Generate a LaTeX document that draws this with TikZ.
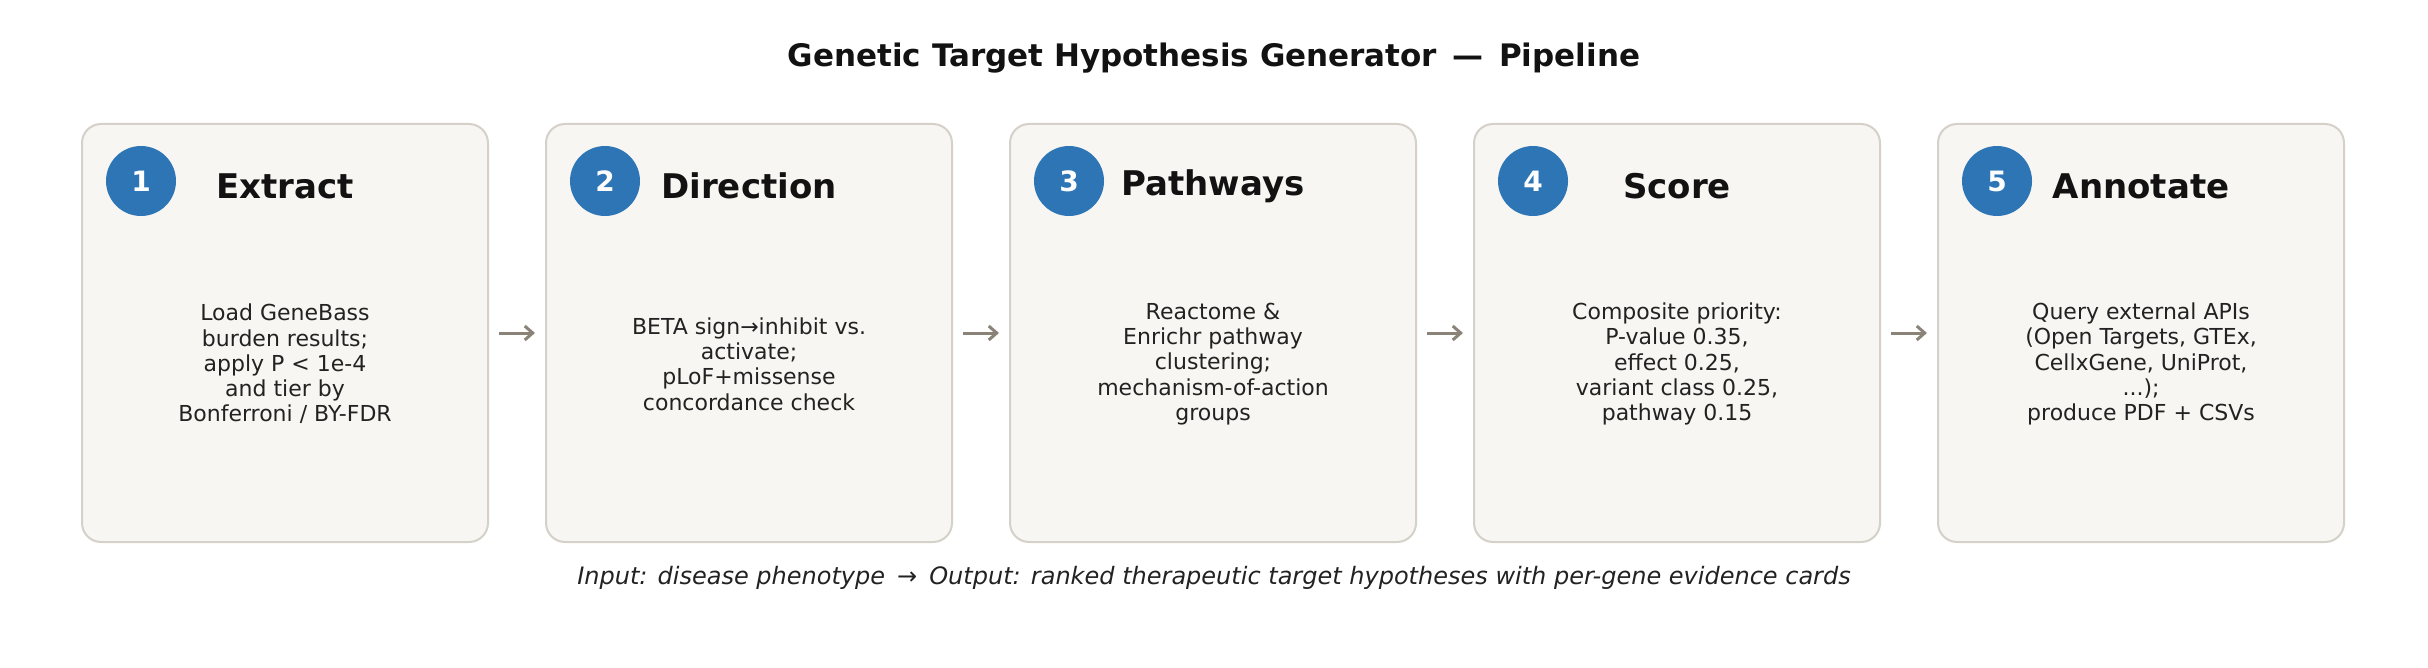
\documentclass[tikz,border=0pt]{standalone}
\usepackage{fontspec}
\setmainfont{DejaVu Sans}
\usetikzlibrary{arrows.meta}
\definecolor{boxfill}{HTML}{F7F6F3}
\definecolor{boxline}{HTML}{D5D0C8}
\definecolor{circ}{HTML}{2E75B6}
\definecolor{arr}{HTML}{8A8378}
\definecolor{txt}{HTML}{222222}
\begin{document}
\begin{tikzpicture}[x=0.5pt,y=-0.5pt,
  box/.style={draw=boxline,fill=boxfill,line width=1pt,rounded corners=9.5pt,minimum width=203pt,minimum height=209pt,inner sep=0pt},
  num/.style={circle,fill=circ,minimum size=35pt,inner sep=0pt,text=white,font=\bfseries\fontsize{14}{14}\selectfont},
  ttl/.style={font=\bfseries\fontsize{17}{17}\selectfont,text=black!93},
  body/.style={align=center,text=txt,font=\fontsize{11}{12.6}\selectfont},
  con/.style={draw=arr,line width=1.5pt,-{Straight Barb[length=4pt,width=7pt]}}]
\useasboundingbox (0,0) rectangle (2428,668);
\node[font=\bfseries\fontsize{15.5}{16}\selectfont,text=black!93] (title) at (1214,58) {Genetic Target Hypothesis Generator\enspace —\enspace Pipeline};
\foreach \i/\t/\b in {1/Extract/{Load GeneBass\\burden results;\\apply P < 1e-4\\and tier by\\Bonferroni / BY-FDR},
  2/Direction/{BETA sign→inhibit vs.\\activate;\\pLoF+missense\\concordance check},
  3/Pathways/{Reactome \&\\Enrichr pathway\\clustering;\\mechanism-of-action\\groups},
  4/Score/{Composite priority:\\P-value 0.35,\\effect 0.25,\\variant class 0.25,\\pathway 0.15},
  5/Annotate/{Query external APIs\\(Open Targets, GTEx,\\CellxGene, UniProt,\\...);\\produce PDF + CSVs}}{
  \pgfmathsetmacro{\cx}{285+464*(\i-1)}
  \node[box] (b\i) at (\cx,333) {};
  \node[num] (n\i) at (\cx-144,181) {\i};
  \node[ttl] (t\i) at (\cx,186) {\t};
  \node[body] (d\i) at (\cx,364) {\b};
}
\foreach \i/\j in {1/2,2/3,3/4,4/5}{
  \draw[con] ([xshift=5pt]b\i.east) -- ([xshift=-5pt]b\j.west);
}
\node[font=\itshape\fontsize{12}{12}\selectfont,text=txt] (foot) at (1214,578) {Input: disease phenotype\enspace →\enspace Output: ranked therapeutic target hypotheses with per-gene evidence cards};
\end{tikzpicture}
\end{document}
